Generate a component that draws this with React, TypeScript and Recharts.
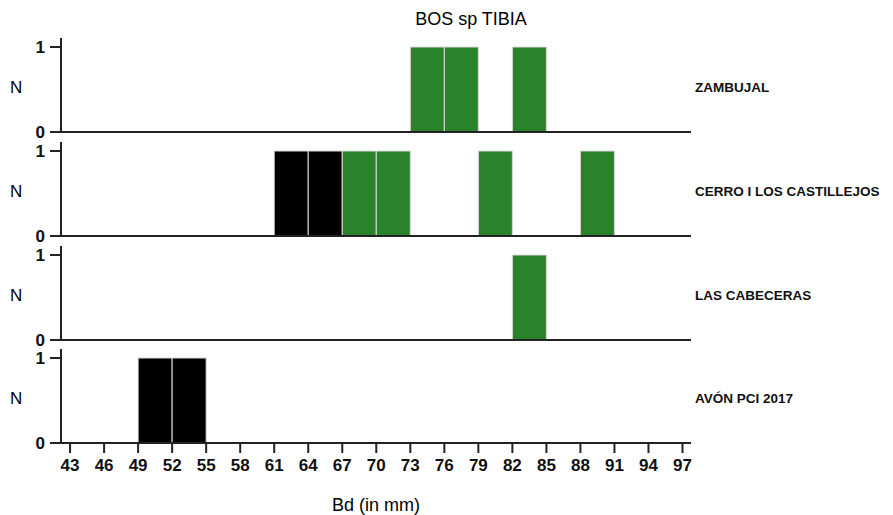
import React from 'react';
import { BarChart, Bar, XAxis, YAxis } from 'recharts';

const binStarts = [43, 46, 49, 52, 55, 58, 61, 64, 67, 70, 73, 76, 79, 82, 85, 88, 91, 94];
const xTicks = [43, 46, 49, 52, 55, 58, 61, 64, 67, 70, 73, 76, 79, 82, 85, 88, 91, 94, 97];
const yTicks = [0, 1];

const siteNames = ['ZAMBUJAL', 'CERRO I LOS CASTILLEJOS', 'LAS CABECERAS', 'AVÓN PCI 2017'];

// counts per 3 mm bin, split by colour group
const zambujalBlack = [0, 0, 0, 0, 0, 0, 0, 0, 0, 0, 0, 0, 0, 0, 0, 0, 0, 0];
const zambujalGreen = [0, 0, 0, 0, 0, 0, 0, 0, 0, 0, 1, 1, 0, 1, 0, 0, 0, 0];
const cerroBlack = [0, 0, 0, 0, 0, 0, 1, 1, 0, 0, 0, 0, 0, 0, 0, 0, 0, 0];
const cerroGreen = [0, 0, 0, 0, 0, 0, 0, 0, 1, 1, 0, 0, 1, 0, 0, 1, 0, 0];
const cabecerasBlack = [0, 0, 0, 0, 0, 0, 0, 0, 0, 0, 0, 0, 0, 0, 0, 0, 0, 0];
const cabecerasGreen = [0, 0, 0, 0, 0, 0, 0, 0, 0, 0, 0, 0, 0, 1, 0, 0, 0, 0];
const avonBlack = [0, 0, 1, 1, 0, 0, 0, 0, 0, 0, 0, 0, 0, 0, 0, 0, 0, 0];
const avonGreen = [0, 0, 0, 0, 0, 0, 0, 0, 0, 0, 0, 0, 0, 0, 0, 0, 0, 0];

const blackSets = [zambujalBlack, cerroBlack, cabecerasBlack, avonBlack];
const greenSets = [zambujalGreen, cerroGreen, cabecerasGreen, avonGreen];

const FONT = "'Liberation Sans', Arial, sans-serif";
const AXIS = '#222';
const GREEN = '#2a832a';

const PLOT_H = 94;
const PITCH = 103.8;
const FIRST_TOP = 38;

const buildRows = (black: number[], green: number[]) =>
  binStarts.map((lo, i) => ({ mid: lo + 1.5, black: black[i], green: green[i] }));

const renderYTick = (props: any) => (
  <text
    key={`y-${props.index}`}
    x={props.x}
    y={props.y}
    dy="0.36em"
    textAnchor="end"
    fontFamily={FONT}
    fontSize={17}
    fontWeight="bold"
    fill="#111"
  >
    {props.payload.value}
  </text>
);

const renderXTick = (props: any) => (
  <text
    key={`x-${props.index}`}
    x={props.x}
    y={props.y}
    dy="0.71em"
    textAnchor="middle"
    fontFamily={FONT}
    fontSize={17}
    fontWeight="bold"
    fill="#111"
  >
    {props.payload.value}
  </text>
);

const Panel = ({ index }: { index: number }) => {
  const last = index === siteNames.length - 1;
  const data = buildRows(blackSets[index], greenSets[index]);
  const top = FIRST_TOP + index * PITCH;
  const axisH = last ? 40 : 12;
  return (
    <div style={{ position: 'absolute', left: 0, top }}>
      <BarChart
        width={893}
        height={PLOT_H + axisH}
        data={data}
        margin={{ top: 0, right: 202, bottom: 0, left: 11 }}
        barCategoryGap={0}
        barGap={0}
      >
        <XAxis
          type="number"
          dataKey="mid"
          domain={[42.2, 97.75]}
          ticks={xTicks}
          allowDataOverflow
          height={axisH}
          axisLine={{ stroke: AXIS, strokeWidth: 2 }}
          tickLine={last ? { stroke: AXIS, strokeWidth: 2 } : false}
          tickSize={10}
          tickMargin={6}
          tick={last ? renderXTick : false}
          interval={0}
        />
        <YAxis
          type="number"
          domain={[0, 1.106]}
          ticks={yTicks}
          allowDataOverflow
          width={50}
          axisLine={{ stroke: AXIS, strokeWidth: 2 }}
          tickLine={{ stroke: AXIS, strokeWidth: 2 }}
          tickSize={11}
          tickMargin={5}
          tick={renderYTick}
        />
        <Bar dataKey="black" stackId="s" fill="#000" stroke="#d8d8d8" strokeWidth={1} isAnimationActive={false} />
        <Bar dataKey="green" stackId="s" fill={GREEN} stroke="#d8d8d8" strokeWidth={1} isAnimationActive={false} />
      </BarChart>
      <div
        style={{
          position: 'absolute',
          left: 10,
          top: 0,
          height: 100,
          lineHeight: '100px',
          fontFamily: FONT,
          fontSize: 17,
          color: '#000',
        }}
      >
        N
      </div>
      <div
        style={{
          position: 'absolute',
          left: 695,
          top: 0,
          height: 100,
          lineHeight: '100px',
          fontFamily: FONT,
          fontSize: 13.5,
          fontWeight: 'bold',
          color: '#111',
          whiteSpace: 'nowrap',
        }}
      >
        {siteNames[index]}
      </div>
    </div>
  );
};

export default function App() {
  return (
    <div
      style={{
        position: 'absolute',
        left: 0,
        top: 0,
        width: 893,
        height: 515,
        background: '#fff',
        overflow: 'hidden',
      }}
    >
      <div
        style={{
          position: 'absolute',
          left: 0,
          width: 942,
          top: 9,
          textAlign: 'center',
          fontFamily: FONT,
          fontSize: 18,
          color: '#000',
        }}
      >
        BOS sp TIBIA
      </div>
      {siteNames.map((_, i) => (
        <Panel key={i} index={i} />
      ))}
      <div
        style={{
          position: 'absolute',
          left: 0,
          width: 752,
          top: 495,
          textAlign: 'center',
          fontFamily: FONT,
          fontSize: 18,
          color: '#000',
        }}
      >
        Bd (in mm)
      </div>
    </div>
  );
}
